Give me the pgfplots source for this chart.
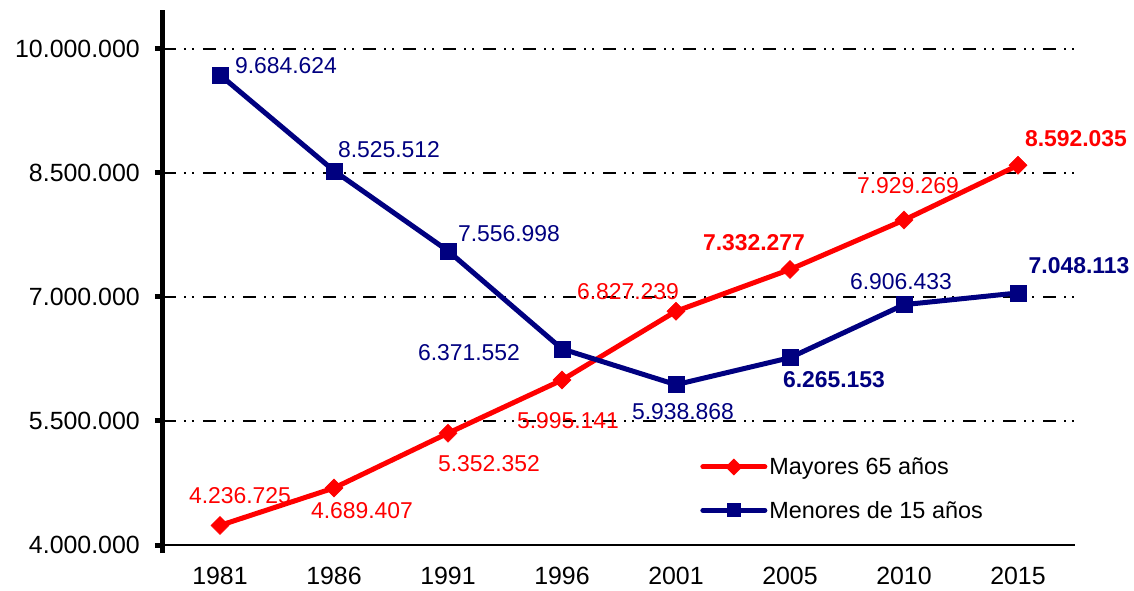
\documentclass[border=0pt]{standalone}
\usepackage{fontspec}
\setmainfont{Liberation Sans}
\usepackage{pgfplots}
\pgfplotsset{compat=1.18}
\definecolor{cred}{RGB}{255,0,0}
\definecolor{cnavy}{RGB}{0,0,128}

% label helper: dx, dy (centre offsets in bp), bold flag, text
\protected\def\lbl#1#2#3#4{\raisebox{\dimexpr #2bp - 8.2bp\relax}[0pt][0pt]{\makebox[0pt]{\hspace*{#1bp}\hspace*{#1bp}{\ifnum#3=1 \bfseries\fi #4}}}}

\pgfplotstableread{
x y lab
0 4236725 \lbl{20}{30}{0}{4.236.725}
1 4689407 \lbl{28}{-22}{0}{4.689.407}
2 5352352 \lbl{41}{-30}{0}{5.352.352}
3 5995141 \lbl{6}{-40}{0}{5.995.141}
4 6827239 \lbl{-48}{20}{0}{6.827.239}
5 7332277 \lbl{-36}{27}{1}{7.332.277}
6 7929269 \lbl{4}{35}{0}{7.929.269}
7 8592035 \lbl{58}{27}{1}{8.592.035}
}\mayores

\pgfplotstableread{
x y lab
0 9684624 \lbl{66}{10}{0}{9.684.624}
1 8525512 \lbl{55}{21}{0}{8.525.512}
2 7556998 \lbl{61}{18}{0}{7.556.998}
3 6371552 \lbl{-93}{-3}{0}{6.371.552}
4 5938868 \lbl{7}{-27}{0}{5.938.868}
5 6265153 \lbl{44}{-22}{1}{6.265.153}
6 6906433 \lbl{-3}{23}{0}{6.906.433}
7 7048113 \lbl{61}{28}{1}{7.048.113}
}\menores

\pgfplotsset{
  lbl/.style={
    point meta=explicit symbolic,
    nodes near coords={\pgfplotspointmeta},
    every node near coord/.append style={anchor=center,
      font=\fontsize{23}{27}\selectfont, text=#1, inner sep=0pt},
  },
}

\begin{document}
\begin{tikzpicture}
\useasboundingbox (-163bp,-46bp) rectangle (971bp,545bp);
\begin{axis}[
  at={(0bp,0bp)}, anchor=south west,
  scale only axis, width=912bp, height=535bp,
  xmin=-0.5, xmax=7.5, ymin=4000000, ymax=10470000,
  scaled y ticks=false,
  axis x line*=bottom, axis y line*=left,
  x axis line style={-, line width=2bp, black},
  y axis line style={-, line width=5bp, black, shorten <=-8bp},
  xtick={0,...,7},
  xticklabels={1981,1986,1991,1996,2001,2005,2010,2015},
  ytick={4000000,5500000,7000000,8500000,10000000},
  yticklabels={4.000.000,5.500.000,7.000.000,8.500.000,10.000.000},
  /pgf/number format/assume math mode=true,
  tick align=outside,
  major tick length=8bp,
  xtick style={draw=none},
  ytick style={line width=5bp, black},
  ticklabel style={font=\fontsize{25}{30}\selectfont, inner sep=0pt},
  yticklabel style={anchor=east, xshift=-15bp},
  xticklabel style={anchor=north, yshift=-14bp},
  ymajorgrids,
  major grid style={black, line width=1.6bp, dash pattern=on 13bp off 8bp on 2bp off 6bp on 2bp off 9bp},
  clip=false,
  legend style={at={(axis description cs:0.589,0.167)}, anchor=north west, draw=none, fill=none,
    font=\fontsize{23.5}{27}\selectfont, row sep=21bp, inner sep=0pt},
  legend cell align=left,
  legend image code/.code={\draw[#1, line cap=round, mark repeat=2, mark phase=2] plot coordinates {(0bp,0bp) (31bp,0bp) (62bp,0bp)};},
]
\addplot[forget plot, cred, line width=5bp, mark=square*, mark size=6.4bp,
  mark options={rotate=45, line width=0.5bp, solid, fill=cred}, lbl=cred]
  table[x=x, y=y, meta=lab] {\mayores};
\addplot[forget plot, cnavy, line width=5bp, mark=square*, mark size=8bp,
  mark options={line width=0.5bp, solid, fill=cnavy}, lbl=cnavy]
  table[x=x, y=y, meta=lab] {\menores};
\addlegendimage{cred, line width=5bp, mark=square*, mark size=3.5bp, mark options={rotate=45, solid, fill=cred}}
\addlegendentry{Mayores 65 años}
\addlegendimage{cnavy, line width=5bp, mark=square*, mark size=4.5bp, mark options={solid, fill=cnavy}}
\addlegendentry{Menores de 15 años}
\end{axis}
\end{tikzpicture}
\end{document}
